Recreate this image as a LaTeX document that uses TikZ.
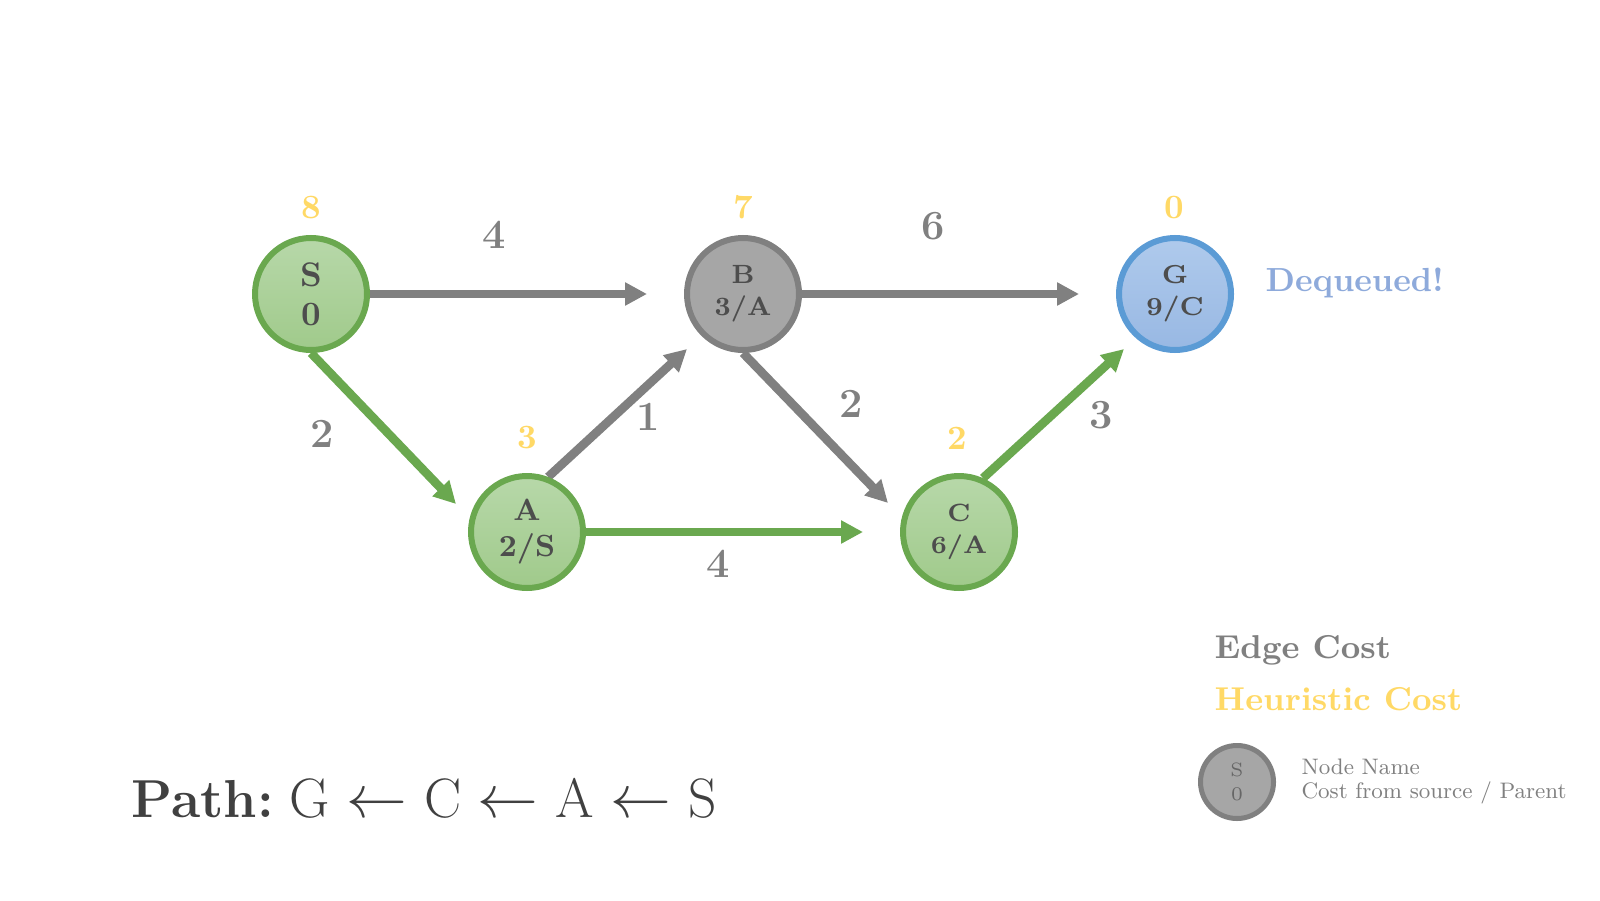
\documentclass[tikz,border=0pt]{standalone}
\usetikzlibrary{arrows.meta,calc,backgrounds}
\definecolor{grn}{HTML}{6AA84F}
\definecolor{grnT}{HTML}{B7D8A9}
\definecolor{grnB}{HTML}{A0CA8B}
\definecolor{gryE}{HTML}{808080}
\definecolor{gryF}{HTML}{A6A6A6}
\definecolor{bluE}{HTML}{5B9BD5}
\definecolor{bluT}{HTML}{AFCAEC}
\definecolor{bluBt}{HTML}{98B8E3}
\definecolor{heur}{HTML}{FFD966}
\definecolor{deq}{HTML}{8EAADB}
\definecolor{ntext}{HTML}{4D4D4D}
\definecolor{ltext}{HTML}{666666}
\definecolor{ptext}{HTML}{404040}
\newcommand{\plarr}{{\fontsize{17.5}{20}\selectfont$\leftarrow$}}
\tikzset{
  basenode/.style={circle, minimum size=1.12cm, inner sep=0pt, line width=0.06cm, align=center, text=ntext},
  greennode/.style={basenode, draw=grn, top color=grnT, bottom color=grnB},
  graynode/.style={basenode, draw=gryE, fill=gryF},
  bluenode/.style={basenode, draw=bluE, top color=bluT, bottom color=bluBt},
  arr/.style={line width=0.087cm, -{Triangle[length=0.22cm,width=0.22cm]}},
  elab/.style={text=gryE, inner sep=0pt, font=\fontsize{11.8}{14}\selectfont\bfseries},
  hlab/.style={text=heur, inner sep=0pt, anchor=base, font=\fontsize{9.7}{11.6}\selectfont\bfseries},
  legtext/.style={anchor=base west, inner sep=0pt, text=gryE, font=\fontsize{8.5}{10}\selectfont, scale=0.75, transform shape},
}
\begin{document}
\begin{tikzpicture}
\useasboundingbox (0,0) rectangle (16,9);
% nodes
\node[greennode, font=\fontsize{9.7}{11.2}\selectfont\bfseries] (S) at (3.11,6.06) {S\\0};
\node[graynode, font=\fontsize{7.5}{9.1}\selectfont\bfseries] (B) at (7.43,6.06) {B\\3/A};
\node[bluenode, font=\fontsize{7.4}{9.1}\selectfont\bfseries] (G) at (11.75,6.06) {G\\9/C};
\node[greennode, font=\fontsize{8.7}{10.2}\selectfont\bfseries] (A) at (5.27,3.68) {A\\2/S};
\node[greennode, font=\fontsize{7.1}{9.3}\selectfont\bfseries] (C) at (9.59,3.68) {C\\6/A};
% arrow tips
\coordinate (tSB) at ($(B.center)+(-0.96,0)$);
\coordinate (tBG) at ($(G.center)+(-0.96,0)$);
\coordinate (tAC) at ($(C.center)+(-0.96,0)$);
\coordinate (tSA) at ($(A.center)+(-0.71,0.28)$);
\coordinate (tBC) at ($(C.center)+(-0.71,0.29)$);
\coordinate (tAB) at ($(B.center)+(-0.56,-0.55)$);
\coordinate (tCG) at ($(G.center)+(-0.51,-0.55)$);
\begin{pgfonlayer}{background}
\fill[white] (0,0) rectangle (16,9);
\draw[arr, gryE] (S.east) -- (tSB);
\draw[arr, gryE] (B.east) -- (tBG);
\draw[arr, grn] (S.south) -- (tSA);
\draw[arr, grn] (A.east) -- (tAC);
\draw[arr, gryE] (A.69) -- (tAB);
\draw[arr, gryE] (B.south) -- (tBC);
\draw[arr, grn] (C.66) -- (tCG);
\end{pgfonlayer}
% edge labels
\node[elab] (lSB) at (4.94,6.65) {4};
\node[elab] (lBG) at (9.33,6.74) {6};
\node[elab] (lSA) at (3.22,4.66) {2};
\node[elab] (lAB) at (6.48,4.83) {1};
\node[elab] (lBC) at (8.51,4.96) {2};
\node[elab] (lAC) at (7.18,3.36) {4};
\node[elab] (lCG) at (11.01,4.85) {3};
% heuristic labels
\node[hlab] (hS) at (3.11,6.82) {8};
\node[hlab] (hB) at (7.43,6.82) {7};
\node[hlab] (hG) at (11.74,6.82) {0};
\node[hlab] (hA) at (5.27,4.52) {3};
\node[hlab] (hC) at (9.57,4.51) {2};
% dequeued
\node[anchor=base west, inner sep=0pt, text=deq, font=\fontsize{9.5}{11.4}\selectfont\bfseries] (deq) at (12.65,6.08) {Dequeued!};
% legend
\node[anchor=base west, inner sep=0pt, text=gryE, font=\fontsize{9.4}{11.3}\selectfont\bfseries] (lgE) at (12.14,2.42) {Edge Cost};
\node[anchor=base west, inner sep=0pt, text=heur, font=\fontsize{9.4}{11.3}\selectfont\bfseries] (lgH) at (12.14,1.90) {Heuristic Cost};
\node[graynode, minimum size=0.73cm, line width=0.05cm, text=ltext, font=\fontsize{5.5}{6.9}\selectfont] (lgN) at (12.37,1.18) {S\\0};
\node[legtext] (lgT1) at (13.01,1.26) {Node Name};
\node[legtext] (lgT2) at (13.01,1.02) {Cost from source / Parent};
% path
\node[anchor=base west, inner sep=0pt, text=ptext] (path) at (1.31,0.83) {{\fontsize{15.2}{18}\selectfont\bfseries Path:} {\fontsize{15.8}{19}\selectfont G \plarr{} C \plarr{} A \plarr{} S}};
\end{tikzpicture}
\end{document}
